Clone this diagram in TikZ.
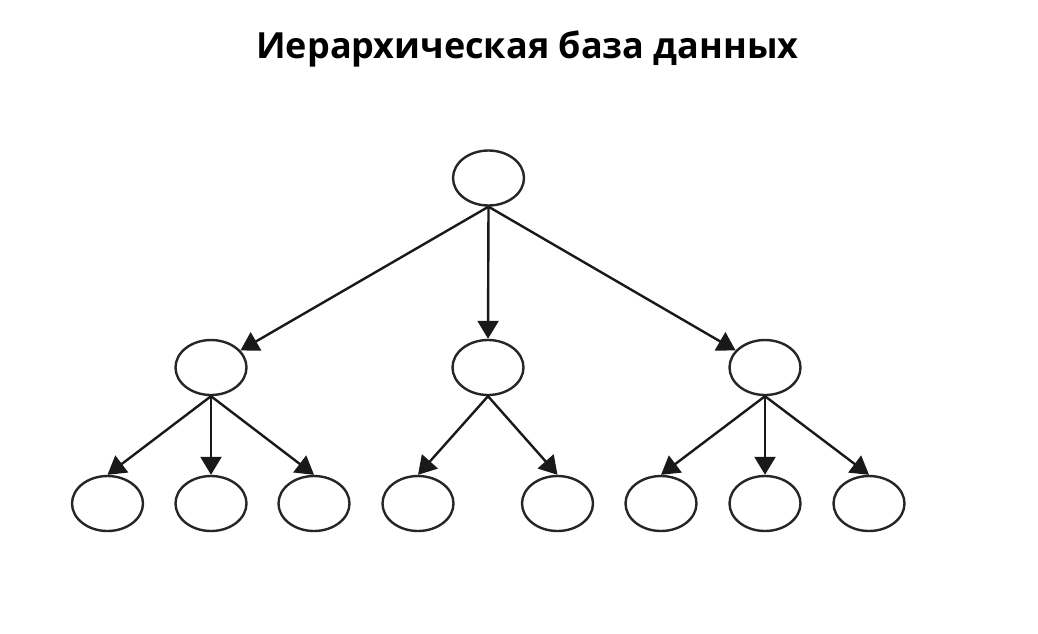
\documentclass[tikz,border=0pt]{standalone}
\usepackage{fontspec}
\setmainfont{Open Sans}
\usetikzlibrary{arrows.meta,shapes.geometric}
\begin{document}
\begin{tikzpicture}[x=1pt,y=-1pt,
  rec/.style={draw=black!85, line width=2.4pt, ellipse, minimum width=71pt, minimum height=55pt, inner sep=0pt},
  link/.style={draw=black!90, line width=2.4pt, -{Triangle[length=18pt,width=21pt]}},
  title/.style={font=\fontsize{36}{40}\selectfont\bfseries, anchor=base, inner sep=0pt}]
\useasboundingbox (0,0) rectangle (1038,633);
\node[title] (t) at (527.5,58) {Иерархическая база данных};
\node[rec] (r) at (488.5,178) {};
\node[rec] (a) at (211,367.5) {};
\node[rec] (b) at (488,367.5) {};
\node[rec] (c) at (765,367.5) {};
\node[rec] (a1) at (107.5,503.5) {};
\node[rec] (a2) at (211,503.5) {};
\node[rec] (a3) at (314,503.5) {};
\node[rec] (b1) at (418,503.5) {};
\node[rec] (b2) at (557.5,503.5) {};
\node[rec] (c1) at (661,503.5) {};
\node[rec] (c2) at (765,503.5) {};
\node[rec] (c3) at (869,503.5) {};
\draw[link] (r.south) -- (a);
\draw[link] (r.south) -- (b.north);
\draw[link] (r.south) -- (c);
\draw[link] (a.south) -- (a1.north);
\draw[link] (a.south) -- (a2.north);
\draw[link] (a.south) -- (a3.north);
\draw[link] (b.south) -- (b1.north);
\draw[link] (b.south) -- (b2.north);
\draw[link] (c.south) -- (c1.north);
\draw[link] (c.south) -- (c2.north);
\draw[link] (c.south) -- (c3.north);
\end{tikzpicture}
\end{document}
